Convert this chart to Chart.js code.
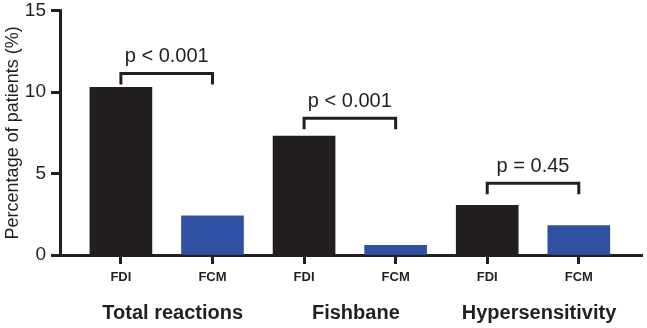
<!DOCTYPE html>
<html>
<head>
<meta charset="utf-8">
<script src="https://cdn.jsdelivr.net/npm/chart.js@4/dist/chart.umd.min.js"></script>
<style>
  html, body { margin: 0; padding: 0; background: #fff; }
  #wrap { width: 647px; height: 328px; }
</style>
</head>
<body>
<div id="wrap"><canvas id="myChart"></canvas></div>
<script>
const ctx = document.getElementById("myChart");

// bar labels and values (%)
var barLabels = ["FDI", "FCM", "FDI", "FCM", "FDI", "FCM"];
var barValues = [10.3, 2.4, 7.3, 0.6, 3.05, 1.8];
var barColors = ["#231f20", "#3050a4", "#231f20", "#3050a4", "#231f20", "#3050a4"];

// groups under the bars
var groupLabels = ["Total reactions", "Fishbane", "Hypersensitivity"];

// p-value brackets
var pLabels = ["p < 0.001", "p < 0.001", "p = 0.45"];
var pHeights = [11.15, 8.4, 4.4];

var yTicks = [0, 5, 10, 15];

var ink = "#231f20";

// draws brackets, group labels and y title
var extras = {
  id: "extras",
  afterDraw(chart) {
    var c = chart.ctx;
    var x = chart.scales.x;
    var y = chart.scales.y;
    c.save();
    c.strokeStyle = ink;
    c.fillStyle = ink;
    c.lineWidth = 3;
    c.textAlign = "center";
    c.textBaseline = "middle";

    pLabels.forEach(function (lab, i) {
      var x1 = x.getPixelForValue(2 * i + 1);
      var x2 = x.getPixelForValue(2 * i + 2);
      var yy = y.getPixelForValue(pHeights[i]);
      c.beginPath();
      c.moveTo(x1, yy + 11);
      c.lineTo(x1, yy);
      c.lineTo(x2, yy);
      c.lineTo(x2, yy + 11);
      c.stroke();
      c.font = "20px 'Liberation Sans', Arial, sans-serif";
      c.fillText(lab, (x1 + x2) / 2, yy - 17);
    });

    c.font = "bold 20px 'Liberation Sans', Arial, sans-serif";
    groupLabels.forEach(function (lab, i) {
      var cx = x.getPixelForValue(2 * i + 1.5);
      c.fillText(lab, cx + 6, 313);
    });

    // y title
    c.font = "18px 'Liberation Sans', Arial, sans-serif";
    c.translate(13, (y.top + y.bottom) / 2);
    c.rotate(-Math.PI / 2);
    c.fillText("Percentage of patients (%)", 0, 0);
    c.restore();
  },
};

new Chart(ctx, {
  type: "bar",
  data: {
    datasets: [
      {
        data: barValues.map(function (v, i) {
          return { x: i + 1, y: v };
        }),
        backgroundColor: barColors,
        barThickness: 62,
      },
    ],
  },
  options: {
    responsive: true,
    maintainAspectRatio: false,
    animation: false,
    layout: { padding: { top: 3, right: 5, left: 0, bottom: 0 } },
    plugins: { legend: { display: false }, tooltip: { enabled: false } },
    scales: {
      x: {
        type: "linear",
        offset: false,
        min: 0.335,
        max: 6.69,
        afterBuildTicks: function (s) {
          s.ticks = barLabels.map(function (l, i) {
            return { value: i + 1 };
          });
        },
        afterFit: function (s) {
          s.height = 73;
        },
        ticks: {
          autoSkip: false,
          maxRotation: 0,
          padding: 6,
          color: ink,
          font: { family: "'Liberation Sans', Arial, sans-serif", size: 13, weight: "bold" },
          callback: function (v) {
            return barLabels[v - 1];
          },
        },
        grid: { offset: false, drawOnChartArea: false, tickLength: 9, tickWidth: 3, tickColor: ink },
        border: { display: true, width: 3, color: ink },
      },
      y: {
        min: 0,
        max: 15,
        afterBuildTicks: function (s) {
          s.ticks = yTicks.map(function (v) {
            return { value: v };
          });
        },
        afterFit: function (s) {
          s.width = 60;
        },
        ticks: {
          padding: 5,
          color: ink,
          font: { family: "'Liberation Sans', Arial, sans-serif", size: 19, lineHeight: 0.6 },
        },
        grid: { drawOnChartArea: false, tickLength: 9, tickWidth: 3, tickColor: ink },
        border: { display: true, width: 3, color: ink },
      },
    },
  },
  plugins: [extras],
});
</script>
</body>
</html>
